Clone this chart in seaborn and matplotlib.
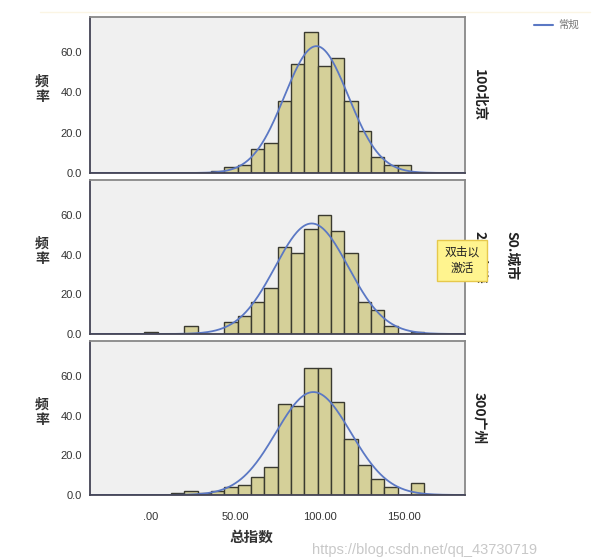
import numpy as np
import pandas as pd
import matplotlib
matplotlib.use("Agg")
import matplotlib.pyplot as plt
from matplotlib.patches import FancyBboxPatch
from matplotlib.lines import Line2D
import seaborn as sns

sns.set_theme(style="white")
plt.rcParams['font.family'] = ['Liberation Sans', 'Noto Sans CJK SC', 'DejaVu Sans']

# ---------------- data ----------------
cities = ["100北京", "200上海", "300广州"]
BIN_START = -4.0
BIN_WIDTH = 7.9
N_BINS = 22

# counts per bin index (bin k covers BIN_START + k*BIN_WIDTH ...)
bj_bins = [5, 6, 7, 8, 9, 10, 11, 12, 13, 14, 15, 16, 17, 18, 19]
bj_counts = [1, 3, 4, 12, 15, 36, 54, 70, 53, 57, 36, 21, 8, 4, 4]

sh_bins = [0, 3, 6, 7, 8, 9, 10, 11, 12, 13, 14, 15, 16, 17, 18, 20]
sh_counts = [1, 4, 6, 9, 16, 23, 44, 41, 53, 60, 52, 41, 16, 12, 4, 1]

gz_bins = [2, 3, 4, 5, 6, 7, 8, 9, 10, 11, 12, 13, 14, 15, 16, 17, 18, 20]
gz_counts = [1, 2, 1, 2, 4, 5, 9, 14, 46, 45, 64, 64, 47, 28, 15, 8, 4, 6]

normal_mean = [98.0, 95.2, 96.2]
normal_sd = [18.9, 21.7, 22.2]

x_ticks = [0, 50, 100, 150]
x_ticklabels = [".00", "50.00", "100.00", "150.00"]
y_ticks = [0, 20, 40, 60]
y_ticklabels = ["0.0", "20.0", "40.0", "60.0"]

panels = [(bj_bins, bj_counts), (sh_bins, sh_counts), (gz_bins, gz_counts)]

# ---------------- figure ----------------
W, H = 603, 559
fig = plt.figure(figsize=(W / 100, H / 100), dpi=100)
fig.patch.set_facecolor("white")

def ax_rect(x0, y0, x1, y1):
    return [x0 / W, 1 - y1 / H, (x1 - x0) / W, (y1 - y0) / H]

rects = [ax_rect(90, 17, 465, 173), ax_rect(90, 180, 465, 334), ax_rect(90, 341, 465, 495)]

edges = (BIN_START + BIN_WIDTH * np.arange(N_BINS + 1)).tolist()
bar_color = "#d5d099"
edge_color = "#3a3a30"
curve_color = "#5b78c4"
XLIM = (-36.1, 186.0)

for i, (bins_idx, counts) in enumerate(panels):
    ax = fig.add_axes(rects[i])
    ax.set_facecolor("#f0f0f0")
    centers = BIN_START + BIN_WIDTH * (np.array(bins_idx) + 0.5)
    df = pd.DataFrame({"x": centers, "w": counts})
    sns.histplot(data=df, x="x", weights="w", bins=edges, ax=ax,
                 color=bar_color, edgecolor=edge_color, linewidth=1.0, alpha=1.0)
    n = float(np.sum(counts))
    xs = np.linspace(XLIM[0], XLIM[1], 400)
    mu, sd = normal_mean[i], normal_sd[i]
    ys = n * BIN_WIDTH * np.exp(-0.5 * ((xs - mu) / sd) ** 2) / (sd * np.sqrt(2 * np.pi))
    sns.lineplot(x=xs, y=ys, ax=ax, color=curve_color, linewidth=1.3)
    ax.set_xlim(*XLIM)
    ax.set_ylim(0, 77.5)
    ax.set_yticks(y_ticks)
    ax.set_yticklabels(y_ticklabels, fontsize=8, color="#333333")
    ax.set_xticks(x_ticks)
    if i == 2:
        ax.set_xticklabels(x_ticklabels, fontsize=8, color="#333333")
    else:
        ax.set_xticklabels([])
    ax.set_xlabel("")
    ax.set_ylabel("")
    ax.tick_params(axis="y", direction="out", length=4, width=1, color="#444444", pad=2)
    ax.tick_params(axis="x", direction="out", length=5, width=1, color="#444444", pad=7)
    if i != 2:
        ax.tick_params(axis="x", length=0)
    for s in ["top", "right"]:
        ax.spines[s].set_color("#888888")
        ax.spines[s].set_linewidth(1.3)
    for s in ["left", "bottom"]:
        ax.spines[s].set_color("#444455")
        ax.spines[s].set_linewidth(1.3)
    # y label 频率 stacked
    yc = (rects[i][1] + rects[i][3] / 2)
    fig.text(42 / W, yc + 0.01, "频\n率", fontsize=10, fontweight="bold", color="#333333",
             ha="center", va="center", linespacing=1.1, family=['Noto Sans CJK SC'])
    # right city label
    fig.text(479 / W, yc, cities[i], fontsize=10, fontweight="bold", color="#222222",
             ha="center", va="center", rotation=-90, family=['Noto Sans CJK SC', 'DejaVu Sans'])

# overall facet variable label
fig.text(512 / W, 1 - 256 / H, "S0.城市", fontsize=10, fontweight="bold", color="#222222",
         ha="center", va="center", rotation=-90, family=['Noto Sans CJK SC', 'DejaVu Sans'])

# tooltip (covers the middle city label, as in the reference)
tip = FancyBboxPatch((437 / W, 1 - 281 / H), 50 / W, 41 / H,
                     boxstyle="square,pad=0", transform=fig.transFigure,
                     facecolor="#fff48f", edgecolor="#e6c84c", linewidth=1.0, zorder=10)
fig.patches.append(tip)
fig.text(462 / W, 1 - 260.5 / H, "双击以\n激活", fontsize=8.5, color="#222222",
         ha="center", va="center", linespacing=1.3, zorder=11, family=['Noto Sans CJK SC'])

# x axis title
fig.text(251 / W, 1 - 537 / H, "总指数", fontsize=10.5, fontweight="bold", color="#333333",
         ha="center", va="center", family=['Noto Sans CJK SC'])

# legend
fig.lines.append(Line2D([534 / W, 553 / W], [1 - 25 / H, 1 - 25 / H], transform=fig.transFigure,
                        color=curve_color, linewidth=1.5))
fig.text(558 / W, 1 - 25 / H, "常规", fontsize=7.5, color="#777777", ha="left", va="center",
         family=['Noto Sans CJK SC'])

# faint top border
fig.lines.append(Line2D([40 / W, 590 / W], [1 - 12 / H, 1 - 12 / H], transform=fig.transFigure,
                        color="#fbf5e4", linewidth=1.0))

# watermark
fig.text(425 / W, 1 - 550 / H, "https://blog.csdn.net/qq_43730719", fontsize=10.5,
         color="#c8c8c8", ha="center", va="center")

fig.savefig("out.png", dpi=100, facecolor="white")
